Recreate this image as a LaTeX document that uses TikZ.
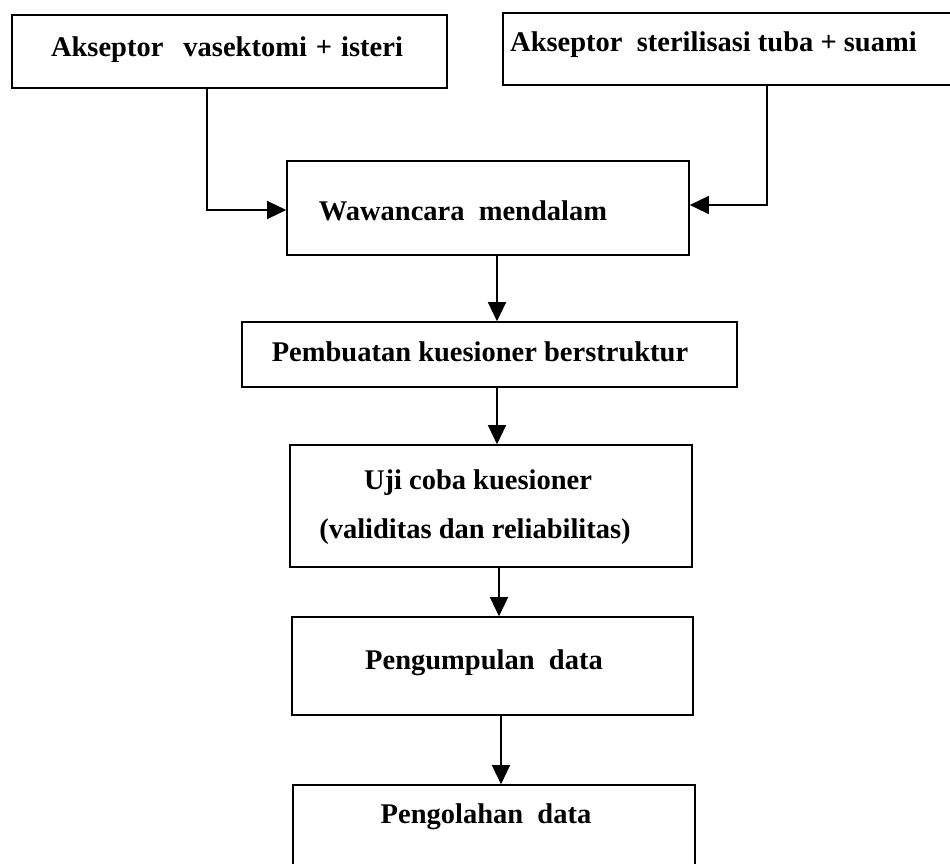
\documentclass[tikz,border=0pt]{standalone}
\usepackage{fontspec}
\setmainfont{Liberation Serif}
\usetikzlibrary{arrows.meta}
\begin{document}
\begin{tikzpicture}[x=1pt,y=-1pt,
  boxn/.style={draw, line width=1.6pt, inner sep=0pt},
  lbl/.style={font=\bfseries\fontsize{28.5}{34}\selectfont, inner sep=0pt},
  arr/.style={line width=1.3pt, -{Triangle[length=19pt,width=18pt]}}]
\clip (0,0) rectangle (950,864);
\fill[white] (0,0) rectangle (950,864);
% boxes
\node[boxn, minimum width=435pt, minimum height=73pt] (b1) at (229.5,51.5) {};
\node[boxn, minimum width=460pt, minimum height=72pt] (b2) at (733,49) {};
\node[boxn, minimum width=402pt, minimum height=94pt] (waw) at (488,208) {};
\node[boxn, minimum width=495pt, minimum height=65pt] (pem) at (489.5,354.5) {};
\node[boxn, minimum width=402pt, minimum height=122pt] (uji) at (491,506) {};
\node[boxn, minimum width=401pt, minimum height=98pt] (kum) at (492.5,666) {};
\node[boxn, minimum width=402pt, minimum height=95pt] (ola) at (494,832.5) {};
% texts
\node[lbl] (t1) at (227,50) {Akseptor\hspace{20pt}vasektomi\hspace{9pt}+\hspace{9pt}isteri};
\node[lbl, anchor=west] (t2) at (510,45) {Akseptor\ \ sterilisasi tuba + suami};
\node[lbl] (t3) at (463,211) {Wawancara\ \ mendalam};
\node[lbl] (t4) at (480,352) {Pembuatan kuesioner berstruktur};
\node[lbl] (t5) at (478,483) {Uji coba kuesioner};
\node[lbl] (t6) at (475,532) {(validitas dan reliabilitas)};
\node[lbl] (t7) at (484,663) {Pengumpulan\ \ data};
\node[lbl] (t8) at (486,817) {Pengolahan\ \ data};
% connectors
\coordinate (k1) at (207,210);
\coordinate (k2) at (767,205);
\coordinate (k3) at (497,0);
\coordinate (k4) at (499,0);
\coordinate (k5) at (501,0);
\draw[arr] (b1.south -| k1) |- (waw.west |- k1);
\draw[arr] (b2.south -| k2) |- (waw.east |- k2);
\draw[arr] (waw.south -| k3) -- (pem.north -| k3);
\draw[arr] (pem.south -| k3) -- (uji.north -| k3);
\draw[arr] (uji.south -| k4) -- (kum.north -| k4);
\draw[arr] (kum.south -| k5) -- (ola.north -| k5);
\end{tikzpicture}
\end{document}
